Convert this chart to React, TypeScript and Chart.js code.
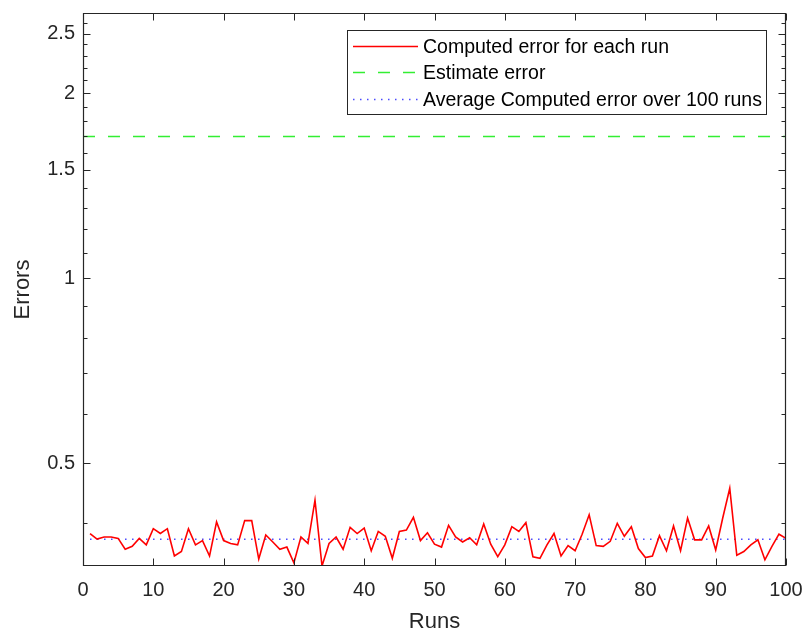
import React, { useEffect, useRef } from "react";
import { Chart, registerables } from "chart.js";

Chart.register(...registerables);

const RUNS = [
  1, 2, 3, 4, 5, 6, 7, 8, 9, 10, 11, 12, 13, 14, 15, 16, 17, 18, 19, 20,
  21, 22, 23, 24, 25, 26, 27, 28, 29, 30, 31, 32, 33, 34, 35, 36, 37, 38, 39, 40,
  41, 42, 43, 44, 45, 46, 47, 48, 49, 50, 51, 52, 53, 54, 55, 56, 57, 58, 59, 60,
  61, 62, 63, 64, 65, 66, 67, 68, 69, 70, 71, 72, 73, 74, 75, 76, 77, 78, 79, 80,
  81, 82, 83, 84, 85, 86, 87, 88, 89, 90, 91, 92, 93, 94, 95, 96, 97, 98, 99, 100,
];

const COMPUTED_ERROR = [
  0.384, 0.376, 0.379, 0.379, 0.377, 0.362, 0.366, 0.377, 0.368, 0.391,
  0.384, 0.391, 0.353, 0.359, 0.391, 0.368, 0.374, 0.353, 0.401, 0.374,
  0.370, 0.368, 0.403, 0.403, 0.349, 0.382, 0.372, 0.362, 0.365, 0.344,
  0.379, 0.370, 0.435, 0.340, 0.370, 0.379, 0.362, 0.393, 0.384, 0.392,
  0.360, 0.387, 0.380, 0.350, 0.387, 0.389, 0.408, 0.374, 0.385, 0.369,
  0.365, 0.396, 0.379, 0.372, 0.378, 0.368, 0.398, 0.369, 0.352, 0.368,
  0.394, 0.387, 0.400, 0.352, 0.350, 0.368, 0.384, 0.353, 0.367, 0.360,
  0.383, 0.412, 0.367, 0.366, 0.373, 0.399, 0.380, 0.394, 0.363, 0.351,
  0.353, 0.381, 0.360, 0.395, 0.360, 0.407, 0.375, 0.375, 0.395, 0.361,
  0.407, 0.455, 0.354, 0.359, 0.368, 0.375, 0.348, 0.366, 0.383, 0.377,
];

const ESTIMATE_ERROR = 1.7;
const AVERAGE_ERROR = 0.376;

const ESTIMATE_RANGE = [0, 100];
const AVERAGE_RANGE = [1, 100];

const SERIES_LABELS = [
  "Computed error for each run",
  "Estimate error",
  "Average Computed error over 100 runs",
];

const X_TICKS = [0, 10, 20, 30, 40, 50, 60, 70, 80, 90, 100];
const Y_TICKS = [0.5, 1, 1.5, 2, 2.5];
const Y_MINOR = [
  0.4, 0.6, 0.7, 0.8, 0.9, 1.1, 1.2, 1.3, 1.4, 1.6, 1.7, 1.8, 1.9, 2.1, 2.2,
  2.3, 2.4, 2.6,
];
const Y_MIN = 0.34;
const Y_MAX = 2.7;

const FONT = "'Liberation Sans', Arial, Helvetica, sans-serif";
const AXIS_COLOR = "#262626";

const matlabAxes = {
  id: "matlabAxes",
  afterDatasetsDraw(chart: any) {
    const { ctx, chartArea } = chart;
    const { left, right, top, bottom } = chartArea;
    const xs = chart.scales.x;
    const ys = chart.scales.y;
    ctx.save();
    ctx.strokeStyle = AXIS_COLOR;
    ctx.lineWidth = 1.2;
    const L = Math.round(left) + 0.5;
    const R = Math.round(right) - 0.5;
    const T = Math.round(top) + 0.5;
    const B = Math.round(bottom) - 0.5;
    ctx.beginPath();
    ctx.rect(L, T, R - L, B - T);
    ctx.stroke();
    ctx.lineWidth = 1;
    ctx.beginPath();
    const major = 7;
    const minor = 4;
    X_TICKS.forEach((v) => {
      const px = Math.round(xs.getPixelForValue(v)) + 0.5;
      ctx.moveTo(px, B);
      ctx.lineTo(px, B - major);
      ctx.moveTo(px, T);
      ctx.lineTo(px, T + major);
    });
    Y_TICKS.forEach((v) => {
      const py = Math.round(ys.getPixelForValue(v)) + 0.5;
      ctx.moveTo(L, py);
      ctx.lineTo(L + major, py);
      ctx.moveTo(R, py);
      ctx.lineTo(R - major, py);
    });
    Y_MINOR.forEach((v) => {
      const py = Math.round(ys.getPixelForValue(v)) + 0.5;
      ctx.moveTo(L, py);
      ctx.lineTo(L + minor, py);
      ctx.moveTo(R, py);
      ctx.lineTo(R - minor, py);
    });
    ctx.stroke();
    ctx.restore();
  },
  afterDraw(chart: any) {
    const { ctx } = chart;
    const boxLeft = 347.5;
    const boxTop = 30.5;
    const boxW = 419;
    const boxH = 84;
    ctx.save();
    ctx.fillStyle = "#ffffff";
    ctx.fillRect(boxLeft, boxTop, boxW, boxH);
    ctx.strokeStyle = AXIS_COLOR;
    ctx.lineWidth = 1;
    ctx.strokeRect(boxLeft, boxTop, boxW, boxH);
    const rows = [46.5, 72.5, 99.5];
    chart.data.datasets.forEach((ds: any, i: number) => {
      const y = rows[i];
      ctx.save();
      ctx.strokeStyle = ds.borderColor;
      ctx.lineWidth = ds.borderWidth;
      ctx.setLineDash(ds.borderDash || []);
      ctx.beginPath();
      ctx.moveTo(353, y);
      ctx.lineTo(418, y);
      ctx.stroke();
      ctx.restore();
      ctx.fillStyle = "#000000";
      ctx.font = `19.5px ${FONT}`;
      ctx.textAlign = "left";
      ctx.textBaseline = "middle";
      ctx.fillText(ds.label, 423, y + 1);
    });
    ctx.restore();
  },
};

export default function App() {
  const ref = useRef<HTMLCanvasElement>(null);
  useEffect(() => {
    if (!ref.current) return;
    const chart = new Chart(ref.current, {
      type: "line",
      data: {
        datasets: [
          {
            label: SERIES_LABELS[0],
            data: RUNS.map((r, i) => ({ x: r, y: COMPUTED_ERROR[i] })),
            borderColor: "#ff0000",
            borderWidth: 1.6,
            pointRadius: 0,
            tension: 0,
          },
          {
            label: SERIES_LABELS[1],
            data: ESTIMATE_RANGE.map((r) => ({ x: r, y: ESTIMATE_ERROR })),
            borderColor: "#33ee33",
            borderWidth: 1.5,
            borderDash: [12, 13],
            pointRadius: 0,
          },
          {
            label: SERIES_LABELS[2],
            data: AVERAGE_RANGE.map((r) => ({ x: r, y: AVERAGE_ERROR })),
            borderColor: "#4a4aff",
            borderWidth: 1.5,
            borderDash: [1.5, 5.5],
            pointRadius: 0,
          },
        ],
      },
      options: {
        animation: false,
        responsive: false,
        devicePixelRatio: 1,
        layout: { padding: { left: 0, top: 13, right: 18, bottom: 0 } },
        plugins: {
          legend: { display: false },
          tooltip: { enabled: false },
        },
        scales: {
          x: {
            type: "linear",
            min: 0,
            max: 100,
            bounds: "data",
            afterBuildTicks: (s: any) => {
              s.ticks = X_TICKS.map((v) => ({ value: v }));
              s.min = 0;
              s.max = 100;
            },
            afterFit: (s: any) => {
              s.height = 69;
              s.paddingLeft = 0;
              s.paddingRight = 0;
            },
            grid: { display: false, drawTicks: false },
            border: { display: false },
            ticks: {
              autoSkip: false,
              maxRotation: 0,
              padding: 12,
              color: AXIS_COLOR,
              font: { family: FONT, size: 20 },
              callback: (v: any) => String(v),
            },
            title: {
              display: true,
              text: "Runs",
              color: AXIS_COLOR,
              font: { family: FONT, size: 22 },
              padding: { top: 0, bottom: 0 },
            },
          },
          y: {
            type: "logarithmic",
            min: Y_MIN,
            max: Y_MAX,
            bounds: "data",
            afterBuildTicks: (s: any) => {
              s.ticks = Y_TICKS.map((v) => ({ value: v }));
              s.min = Y_MIN;
              s.max = Y_MAX;
            },
            afterFit: (s: any) => {
              s.width = 83;
              s.paddingTop = 0;
              s.paddingBottom = 0;
            },
            grid: { display: false, drawTicks: false },
            border: { display: false },
            ticks: {
              autoSkip: false,
              padding: 8,
              color: AXIS_COLOR,
              font: { family: FONT, size: 20 },
              callback: (v: any) => String(v),
            },
            title: {
              display: true,
              text: "Errors",
              color: AXIS_COLOR,
              font: { family: FONT, size: 22 },
              padding: { top: 10, bottom: 0 },
            },
          },
        },
      },
      plugins: [matlabAxes],
    });
    return () => chart.destroy();
  }, []);
  return (
    <canvas
      ref={ref}
      width={804}
      height={635}
      style={{ position: "fixed", left: 0, top: 0 }}
    />
  );
}
